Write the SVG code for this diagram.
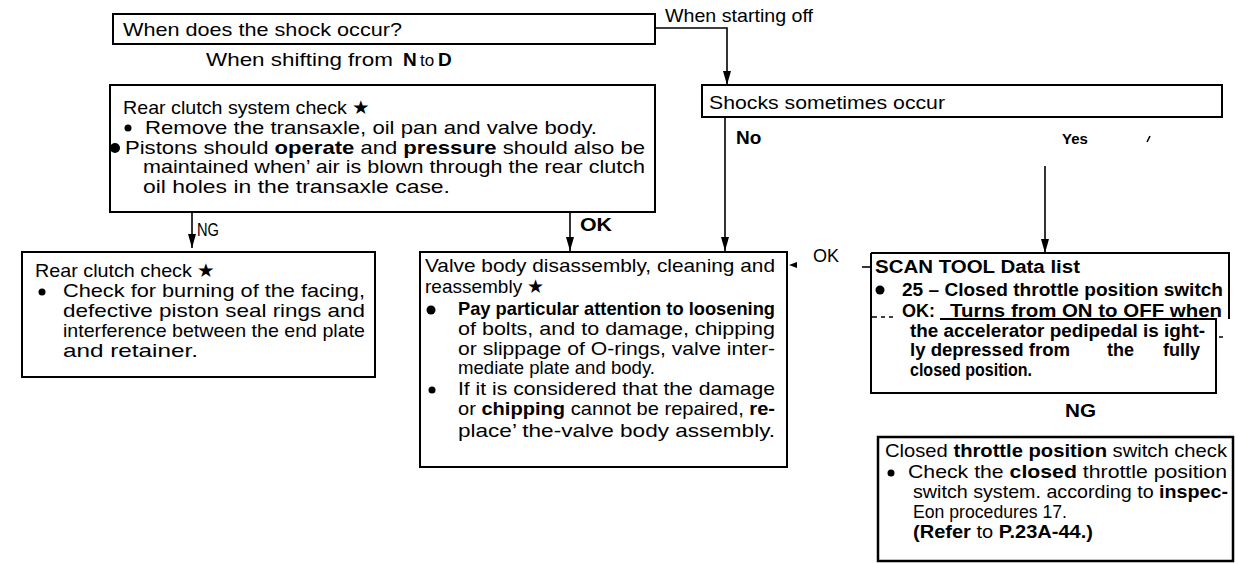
<svg xmlns="http://www.w3.org/2000/svg" width="1238" height="564" viewBox="0 0 1238 564">
<style>
.t{font-family:"Liberation Sans",Arial,sans-serif;font-size:19px;fill:#000}
.s{font-family:"Liberation Sans",Arial,sans-serif;font-size:18px;font-weight:bold;fill:#000}
.b{font-weight:bold}
.box{fill:#fff;stroke:#000;stroke-width:2}
.ln{fill:none;stroke:#000;stroke-width:1.6}
</style>
<defs>
<marker id="ah" viewBox="0 0 8 14" refX="4" refY="14" markerWidth="8" markerHeight="14" orient="auto-start-reverse" markerUnits="userSpaceOnUse">
<path d="M0,0 L8,0 L4,14 z" fill="#000" transform="rotate(0)"/>
</marker>
<marker id="av" viewBox="0 0 14 8" refX="14" refY="4" markerWidth="14" markerHeight="8" orient="auto" markerUnits="userSpaceOnUse">
<path d="M0,0 L14,4 L0,8 z" fill="#000"/>
</marker>
</defs>
<rect width="1238" height="564" fill="#fff"/>

<g id="connectors">
<path class="ln" d="M655,28 H727 V85" marker-end="url(#av)"/>
<path class="ln" d="M192,212 V248" marker-end="url(#av)"/>
<path class="ln" d="M570,212 V251" marker-end="url(#av)"/>
<path class="ln" d="M725,117 V251" marker-end="url(#av)"/>
<path class="ln" d="M1045,166 V253" marker-end="url(#av)"/>
<polygon points="789,265 797,262 797,268" fill="#000"/>
<path class="ln" d="M862,267 H872"/>
<text class="t" x="197" y="236" textLength="22" lengthAdjust="spacingAndGlyphs">NG</text>
<text class="t b" x="580" y="231" textLength="32" lengthAdjust="spacingAndGlyphs">OK</text>
<text class="t" x="665" y="22" textLength="148" lengthAdjust="spacingAndGlyphs">When starting off</text>
<text class="t" x="206" y="66" textLength="187" lengthAdjust="spacingAndGlyphs">When shifting from</text>
<text class="t b" x="403" y="66">N</text>
<text class="t" x="420" y="66" style="font-size:17px">to</text>
<text class="t b" x="438" y="66">D</text>
<text class="t b" x="736" y="144">No</text>
<text class="t b" x="1062" y="144" style="font-size:15px">Yes</text>
<text class="t" x="813" y="262" textLength="26" lengthAdjust="spacingAndGlyphs">OK</text>
<text class="s" x="1065" y="417" textLength="31" lengthAdjust="spacingAndGlyphs">NG</text>
<path class="ln" d="M957,86 L954,93 M1150,136 L1147,142" stroke-width="1.2"/>
</g>

<g id="q1">
<rect class="box" x="113" y="14" width="542" height="30"/>
<text class="t" x="123" y="36" textLength="279" lengthAdjust="spacingAndGlyphs">When does the shock occur?</text>
</g>

<g id="shocks">
<rect class="box" x="702" y="85" width="520" height="32"/>
<text class="t" x="709" y="109" textLength="236" lengthAdjust="spacingAndGlyphs">Shocks sometimes occur</text>
</g>

<g id="rearSystem">
<rect class="box" x="110" y="85" width="545" height="127"/>
<text class="t" x="123" y="114" textLength="247" lengthAdjust="spacingAndGlyphs">Rear clutch system check ★</text>
<circle cx="128" cy="128" r="3.5"/>
<text class="t" x="145" y="134" textLength="452" lengthAdjust="spacingAndGlyphs">Remove the transaxle, oil pan and valve body.</text>
<circle cx="115" cy="148" r="5"/>
<text class="t" x="125" y="154" textLength="520" lengthAdjust="spacingAndGlyphs">Pistons should <tspan class="b">operate</tspan> and <tspan class="b">pressure</tspan> should also be</text>
<text class="t" x="143" y="173" textLength="502" lengthAdjust="spacingAndGlyphs">maintained when’ air is blown through the rear clutch</text>
<text class="t" x="143" y="193" textLength="307" lengthAdjust="spacingAndGlyphs">oil holes in the transaxle case.</text>
</g>

<g id="rearClutch">
<rect class="box" x="22" y="252" width="353" height="125"/>
<text class="t" x="35" y="277" textLength="180" lengthAdjust="spacingAndGlyphs">Rear clutch check ★</text>
<circle cx="42" cy="292" r="3.5"/>
<text class="t" x="63" y="297" textLength="302" lengthAdjust="spacingAndGlyphs">Check for burning of the facing,</text>
<text class="t" x="63" y="317" textLength="302" lengthAdjust="spacingAndGlyphs">defective piston seal rings and</text>
<text class="t" x="63" y="337" textLength="302" lengthAdjust="spacingAndGlyphs">interference between the end plate</text>
<text class="t" x="63" y="357" textLength="135" lengthAdjust="spacingAndGlyphs">and retainer.</text>
</g>

<g id="valveBody">
<rect class="box" x="420" y="252" width="367" height="215"/>
<text class="t" x="425" y="272" textLength="350" lengthAdjust="spacingAndGlyphs">Valve body disassembly, cleaning and</text>
<text class="t" x="425" y="293">reassembly ★</text>
<circle cx="431" cy="310" r="4.5"/>
<text class="t b" x="458" y="315" textLength="317" lengthAdjust="spacingAndGlyphs">Pay particular attention to loosening</text>
<text class="t" x="458" y="335" textLength="317" lengthAdjust="spacingAndGlyphs">of bolts, and to damage, chipping</text>
<text class="t" x="458" y="355" textLength="317" lengthAdjust="spacingAndGlyphs">or slippage of O-rings, valve inter-</text>
<text class="t" x="458" y="374" textLength="197" lengthAdjust="spacingAndGlyphs">mediate plate and body.</text>
<circle cx="432" cy="390" r="3.5"/>
<text class="t" x="458" y="395" textLength="317" lengthAdjust="spacingAndGlyphs">If it is considered that the damage</text>
<text class="t" x="458" y="415" textLength="317" lengthAdjust="spacingAndGlyphs">or <tspan class="b">chipping</tspan> cannot be repaired, <tspan class="b">re-</tspan></text>
<text class="t" x="458" y="437" textLength="317" lengthAdjust="spacingAndGlyphs">place’ the-valve body assembly.</text>
</g>

<g id="scanTool">
<path d="M871,253 H1229 V319 M940,319 H1216 V393 H871 V253" fill="none" stroke="#000" stroke-width="2"/>
<path d="M872,317 H877 M881,317 H885 M889,317 H893" stroke="#000" stroke-width="1.5"/>
<path d="M1219,337 H1223" stroke="#000" stroke-width="1.5"/>
<text class="s" x="875" y="273" textLength="205" lengthAdjust="spacingAndGlyphs">SCAN TOOL Data list</text>
<circle cx="880" cy="290" r="4.5"/>
<text class="s" x="902" y="296" textLength="321" lengthAdjust="spacingAndGlyphs">25 – Closed throttle position switch</text>
<text class="s" x="902" y="317">OK:</text>
<text class="s" x="950" y="317" textLength="272" lengthAdjust="spacingAndGlyphs">Turns from ON to OFF when</text>
<text class="s" x="910" y="337" textLength="295" lengthAdjust="spacingAndGlyphs">the accelerator pedipedal is ight-</text>
<text class="s" x="910" y="356" textLength="160" lengthAdjust="spacingAndGlyphs">ly depressed from</text>
<text class="s" x="1107" y="356">the</text>
<text class="s" x="1163" y="356">fully</text>
<text class="s" x="910" y="376" textLength="122" lengthAdjust="spacingAndGlyphs">closed position.</text>
</g>

<g id="closedThrottle">
<rect x="878" y="437" width="355" height="124" fill="#fff" stroke="#000" stroke-width="2.5"/>
<text class="t" x="885" y="457" textLength="342" lengthAdjust="spacingAndGlyphs">Closed <tspan class="b">throttle position</tspan> switch check</text>
<circle cx="891" cy="473" r="3.5"/>
<text class="t" x="908" y="478" textLength="319" lengthAdjust="spacingAndGlyphs">Check the <tspan class="b">closed</tspan> throttle position</text>
<text class="t" x="913" y="498" textLength="315" lengthAdjust="spacingAndGlyphs">switch system. according to <tspan class="b">inspec-</tspan></text>
<text class="t" x="913" y="518" textLength="154" lengthAdjust="spacingAndGlyphs">Eon procedures 17.</text>
<text class="t" x="913" y="538" textLength="180" lengthAdjust="spacingAndGlyphs"><tspan class="b">(Refer</tspan> to <tspan class="b">P.23A-44.)</tspan></text>
</g>
</svg>
